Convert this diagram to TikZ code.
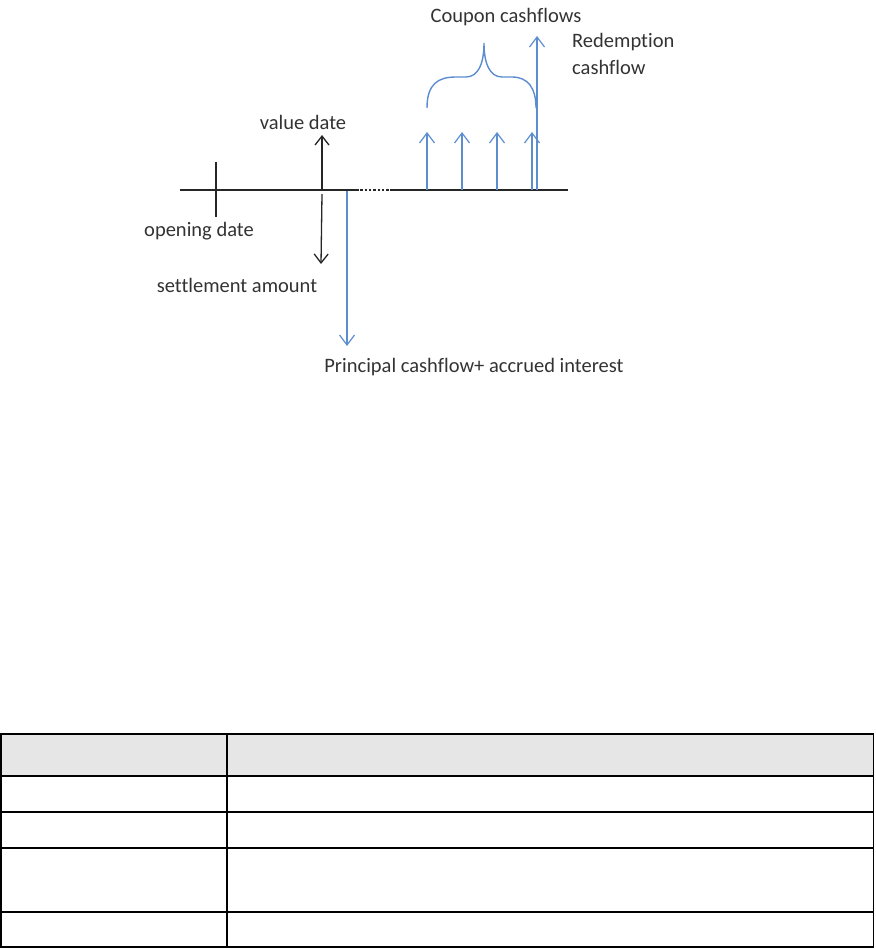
\documentclass[tikz,border=0pt]{standalone}
\usepackage{fontspec}
\setmainfont{Carlito}[Ligatures=NoCommon]
\usepackage{xcolor}
\usetikzlibrary{positioning,arrows.meta}
\definecolor{flowblue}{HTML}{5B8DCF}
\definecolor{ink}{HTML}{262626}
\definecolor{textgray}{HTML}{333333}
\definecolor{headgray}{HTML}{E6E6E6}
\tikzset{
  lbl/.style={inner sep=0pt, align=left, font=\fontsize{20.5}{27}\selectfont, text=textgray},
  timeline/.style={draw=ink, line width=1.6pt},
  blackarrow/.style={-{Straight Barb[length=9pt,width=14pt]}, line width=1.3pt, draw=ink},
  bluearrow/.style={-{Straight Barb[length=10pt,width=15pt]}, line width=1.2pt, draw=flowblue},
  bracecurve/.style={line width=1.4pt, draw=flowblue},
  tablerule/.style={line width=1.5pt, draw=black}
}

\begin{document}
\begin{tikzpicture}[x=1pt, y=-1pt]
  \useasboundingbox (0,0) rectangle (875,949);
  % time line
  \coordinate (tlL) at (180,190);
  \coordinate (gapL) at (356,190);
  \coordinate (gapR) at (393,190);
  \coordinate (tlR) at (568,190);
  \draw[timeline] (tlL) -- (gapL);
  \draw[timeline, dash pattern=on 2.5pt off 1.8pt, line width=1.3pt] (gapL) -- (gapR);
  \draw[timeline] (gapR) -- (tlR);
  % opening date
  \coordinate (opTop) at (216,162);
  \coordinate (opBot) at (216,217);
  \draw[timeline, line width=1.3pt] (opTop) -- (opBot);
  \node[lbl, below=5pt of opBot, xshift=-17pt] (opLab) {opening date};
  % value date and settlement
  \coordinate (vdFoot) at (322,190);
  \coordinate (vdTip) at (322,135);
  \coordinate (stTop) at (322,194);
  \coordinate (stTip) at (321,264);
  \draw[blackarrow] (vdFoot) -- (vdTip);
  \draw[blackarrow] (stTop) -- (stTip);
  \node[lbl, above=5pt of vdTip, xshift=-19pt] (vdLab) {value date};
  \node[lbl, below=14pt of stTip, xshift=-84pt] (stLab) {settlement amount};
  % principal
  \coordinate (prTop) at (347,191);
  \coordinate (prTip) at (347,346);
  \draw[bluearrow] (prTop) -- (prTip);
  \node[lbl, below=12pt of prTip, xshift=127pt] (prLab) {Principal cashflow+ accrued interest};
  % coupons
  \foreach \cx [count=\i] in {427,462,497,532} {
    \coordinate (cpFoot\i) at (\cx,190);
    \coordinate (cpTip\i) at (\cx,132);
    \draw[bluearrow] (cpFoot\i) -- (cpTip\i);
  }
  % redemption
  \coordinate (rdFoot) at (537,190);
  \coordinate (rdTip) at (537,36);
  \draw[bluearrow] (rdFoot) -- (rdTip);
  \node[lbl, below right=-3pt and 35pt of rdTip] (rdLab) {Redemption\\cashflow};
  % brace
  \coordinate (brL) at (427,108);
  \coordinate (brTop) at (484,43);
  \coordinate (brR) at (536,108);
  \draw[bracecurve] (brL) .. controls (427,84) and (438,77) .. (456,77) -- (466,77)
    .. controls (478,77) and (484,64) .. (brTop)
    .. controls (484,64) and (490,77) .. (502,77) -- (512,77)
    .. controls (528,77) and (536,88) .. (brR);
  \node[lbl, above=17pt of brTop, xshift=22pt] (cpLab) {Coupon cashflows};
  % table
  \fill[headgray] (0,734) rectangle (874,776);
  \foreach \ry in {734,776,812,848,912,947}
    \draw[tablerule] (0,\ry) -- (874,\ry);
  \foreach \rx in {0.75,227,873.25}
    \draw[tablerule] (\rx,734) -- (\rx,947);
\end{tikzpicture}
\end{document}
